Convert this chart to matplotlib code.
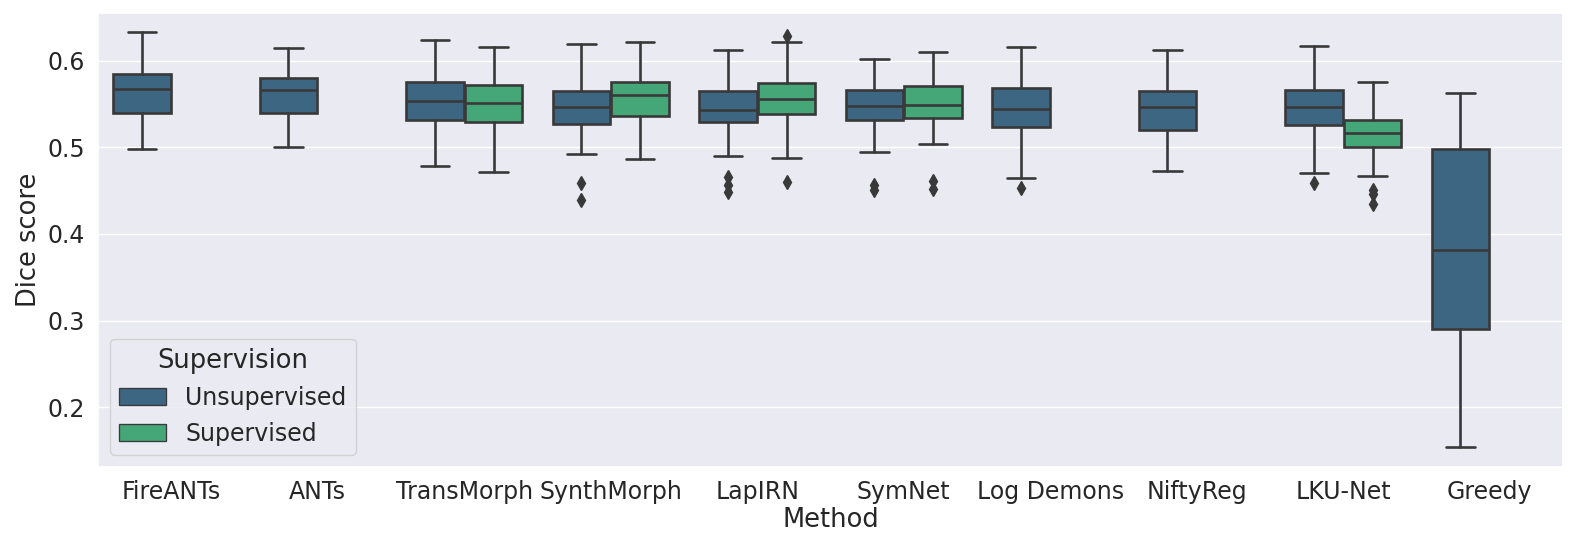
import colorsys
import matplotlib
matplotlib.use("Agg")
import matplotlib.pyplot as plt
import seaborn as sns

methods = ["FireANTs", "ANTs", "TransMorph", "SynthMorph", "LapIRN",
           "SymNet", "Log Demons", "NiftyReg", "LKU-Net", "Greedy"]
hue_levels = ["Unsupervised", "Supervised"]

# Unsupervised box statistics
uns_whislo = [0.498, 0.500, 0.478, 0.492, 0.490, 0.494, 0.464, 0.473, 0.470, 0.154]
uns_q1     = [0.540, 0.540, 0.532, 0.527, 0.529, 0.532, 0.523, 0.520, 0.526, 0.290]
uns_med    = [0.567, 0.566, 0.554, 0.547, 0.543, 0.548, 0.544, 0.547, 0.546, 0.382]
uns_q3     = [0.585, 0.580, 0.575, 0.565, 0.565, 0.566, 0.568, 0.565, 0.566, 0.498]
uns_whishi = [0.633, 0.615, 0.624, 0.619, 0.612, 0.602, 0.616, 0.612, 0.617, 0.563]
uns_fliers = [[], [], [], [0.459, 0.439], [0.466, 0.457, 0.448],
              [0.457, 0.451], [0.453], [], [0.459], []]

# Supervised box statistics (None = method has no supervised variant)
sup_whislo = [None, None, 0.471, 0.486, 0.488, 0.504, None, None, 0.467, None]
sup_q1     = [None, None, 0.529, 0.536, 0.539, 0.534, None, None, 0.500, None]
sup_med    = [None, None, 0.551, 0.560, 0.556, 0.549, None, None, 0.517, None]
sup_q3     = [None, None, 0.572, 0.575, 0.574, 0.571, None, None, 0.531, None]
sup_whishi = [None, None, 0.616, 0.621, 0.621, 0.610, None, None, 0.575, None]
sup_fliers = [[], [], [], [], [0.629, 0.460], [0.461, 0.452], [], [],
              [0.451, 0.446, 0.435], []]

sns.set_theme(style="darkgrid", font_scale=1.5)
plt.rcParams.update({
    "xtick.labelsize": 17, "ytick.labelsize": 17,
    "axes.labelsize": 18.5, "legend.fontsize": 17, "legend.title_fontsize": 18.5,
})

def desat(c, p=0.75):
    h, l, s = colorsys.rgb_to_hls(*c)
    return colorsys.hls_to_rgb(h, l, s * p)

base = sns.color_palette("viridis", 2)
colors = [desat(c) for c in base]
lum = min(colorsys.rgb_to_hls(*c)[1] for c in colors) * 0.6
gray = (lum, lum, lum)
lw = 1.9

fig = plt.figure(figsize=(15.77, 5.5), dpi=100)
ax = fig.add_axes([98 / 1577, 1 - 467 / 550, (1563 - 98) / 1577, (467 - 13) / 550])

def draw(k, whislo, q1, med, q3, whishi, fliers, offset):
    stats, pos = [], []
    for i in range(len(methods)):
        if med[i] is None:
            continue
        stats.append(dict(whislo=whislo[i], q1=q1[i], med=med[i], q3=q3[i],
                          whishi=whishi[i], fliers=fliers[i]))
        pos.append(i + offset)
    ax.bxp(stats, positions=pos, widths=0.392, patch_artist=True,
           boxprops=dict(facecolor=colors[k], edgecolor=gray, linewidth=lw),
           medianprops=dict(color=gray, linewidth=lw),
           whiskerprops=dict(color=gray, linewidth=lw),
           capprops=dict(color=gray, linewidth=lw),
           flierprops=dict(marker="d", markerfacecolor=gray, markeredgecolor=gray,
                           markersize=7, linestyle="none"),
           manage_ticks=False)

draw(0, uns_whislo, uns_q1, uns_med, uns_q3, uns_whishi, uns_fliers, -0.2)
draw(1, sup_whislo, sup_q1, sup_med, sup_q3, sup_whishi, sup_fliers, 0.2)

ax.grid(axis="x", visible=False)
ax.set_xlim(-0.5, len(methods) - 0.5)
ax.set_xticks(range(len(methods)))
ax.set_xticklabels(methods)
ax.set_yticks([0.2, 0.3, 0.4, 0.5, 0.6])
ax.set_ylim(0.131, 0.655)
ax.set_xlabel("Method", labelpad=2)
ax.set_ylabel("Dice score")

handles = [plt.Rectangle((0, 0), 0, 0, facecolor=colors[k], edgecolor=gray,
                         linewidth=lw / 2, label=hue_levels[k]) for k in range(2)]
ax.legend(handles=handles, title="Supervision", loc="lower left")

fig.savefig("out.png", dpi=100)
